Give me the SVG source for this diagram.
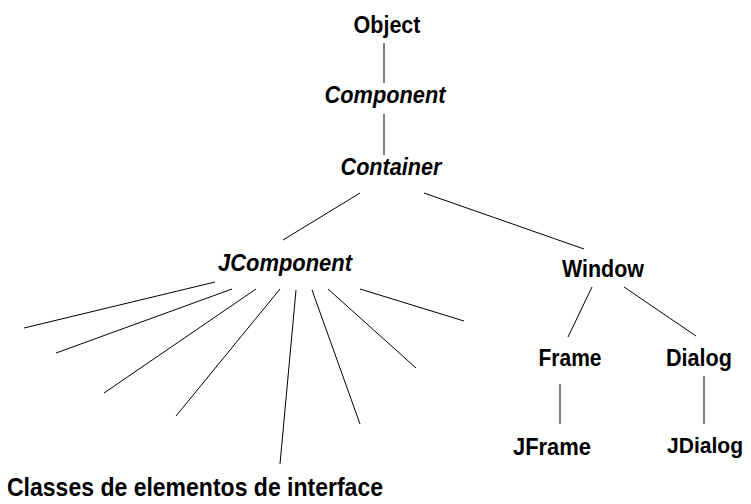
<svg xmlns="http://www.w3.org/2000/svg" width="751" height="504" viewBox="0 0 751 504">
<style>
text{font-family:"Liberation Sans",Arial,sans-serif;font-weight:bold;font-size:24px;fill:#000;text-anchor:middle}
.i{font-style:italic}
.edges line{stroke:#000;stroke-width:1}
</style>
<rect width="751" height="504" fill="#fff"/>
<g class="edges">
<line x1="384" y1="43" x2="384" y2="83"/>
<line x1="384" y1="114" x2="384" y2="155"/>
<line x1="360" y1="193" x2="283" y2="240"/>
<line x1="424" y1="193" x2="584" y2="249"/>
<line x1="215" y1="282" x2="24" y2="328"/>
<line x1="232" y1="289" x2="56" y2="353"/>
<line x1="256" y1="289" x2="104" y2="393"/>
<line x1="280" y1="289" x2="176" y2="416"/>
<line x1="296" y1="290" x2="280" y2="464"/>
<line x1="312" y1="290" x2="360" y2="424"/>
<line x1="328" y1="289" x2="416" y2="368"/>
<line x1="360" y1="289" x2="464" y2="321"/>
<line x1="592" y1="287" x2="568" y2="337"/>
<line x1="624" y1="287" x2="696" y2="336"/>
<line x1="560" y1="384" x2="560" y2="424"/>
<line x1="704" y1="376" x2="704" y2="424"/>
</g>
<g id="object"><text x="387" y="33" textLength="67" lengthAdjust="spacingAndGlyphs">Object</text></g>
<g id="component"><text class="i" x="385" y="103" textLength="121" lengthAdjust="spacingAndGlyphs">Component</text></g>
<g id="container"><text class="i" x="391" y="175" textLength="101" lengthAdjust="spacingAndGlyphs">Container</text></g>
<g id="jcomponent"><text class="i" x="285" y="271" textLength="134" lengthAdjust="spacingAndGlyphs">JComponent</text></g>
<g id="window"><text x="603" y="277" textLength="82" lengthAdjust="spacingAndGlyphs">Window</text></g>
<g id="frame"><text x="570" y="366" textLength="63" lengthAdjust="spacingAndGlyphs">Frame</text></g>
<g id="dialog"><text x="699" y="366" textLength="66" lengthAdjust="spacingAndGlyphs">Dialog</text></g>
<g id="jframe"><text x="552" y="455" textLength="78" lengthAdjust="spacingAndGlyphs">JFrame</text></g>
<g id="jdialog"><text x="705" y="453" style="font-size:22px" textLength="76" lengthAdjust="spacingAndGlyphs">JDialog</text></g>
<g id="classes"><text x="195" y="496" style="font-size:25px" textLength="376" lengthAdjust="spacingAndGlyphs">Classes de elementos de interface</text></g>
</svg>
